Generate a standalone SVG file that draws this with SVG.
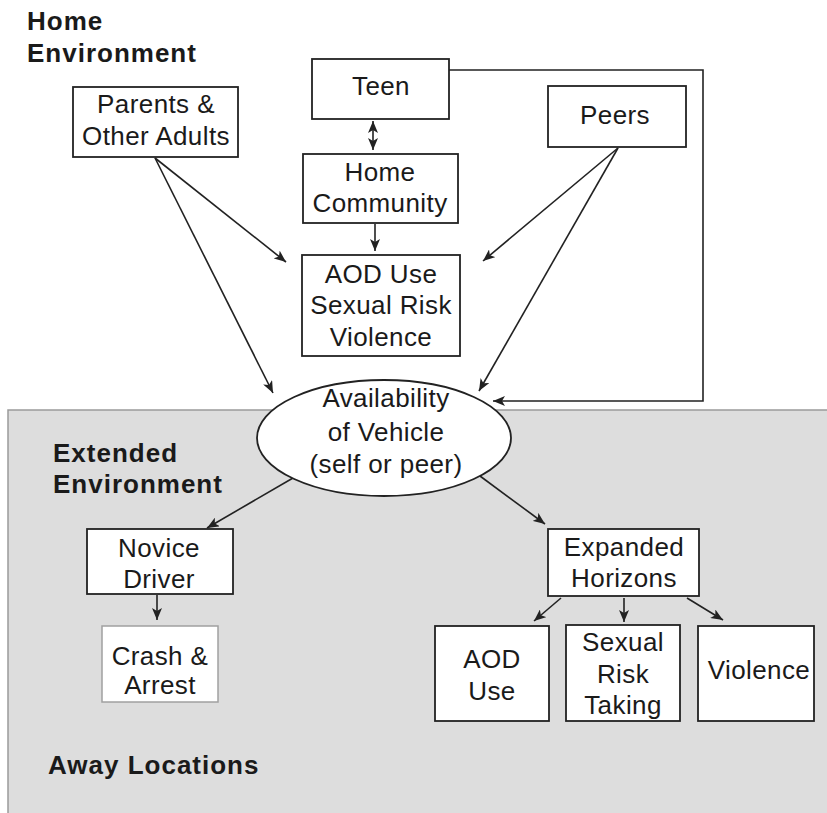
<svg xmlns="http://www.w3.org/2000/svg" width="827" height="813" viewBox="0 0 827 813">
  <defs>
    <style>
      .box { fill: #ffffff; stroke: #222222; stroke-width: 1.8; }
      .box-light { fill: #ffffff; stroke: #a0a0a0; stroke-width: 1.5; }
      .lbl { font-family: "Liberation Sans", Arial, sans-serif; font-size: 26px; fill: #1a1a1a; text-anchor: middle; letter-spacing: 0.4px; }
      .hdr { font-family: "Liberation Sans", Arial, sans-serif; font-size: 26px; font-weight: bold; fill: #1a1a1a; letter-spacing: 1px; }
      .conn { fill: none; stroke: #222222; stroke-width: 1.6; }
    </style>
    <marker id="ah" viewBox="0 0 12 10" refX="12" refY="5" markerWidth="12" markerHeight="10" markerUnits="userSpaceOnUse" orient="auto-start-reverse">
      <path d="M0,0 L12,5 L0,10 L3,5 z" fill="#222222"/>
    </marker>
  </defs>

  <rect width="827" height="813" fill="#ffffff"/>

  <!-- outer zone: extended environment / away locations -->
  <rect x="8" y="410" width="830" height="420" fill="#dddddd" stroke="#9a9a9a" stroke-width="1.5"/>

  <!-- zone headings -->
  <text class="hdr" x="27" y="30">Home</text>
  <text class="hdr" x="27" y="62">Environment</text>
  <text class="hdr" x="53" y="462">Extended</text>
  <text class="hdr" x="53" y="493">Environment</text>
  <text class="hdr" x="48" y="774">Away Locations</text>

  <!-- connectors -->
  <g id="connectors">
    <path class="conn" d="M373,121 L373,150" marker-start="url(#ah)" marker-end="url(#ah)"/>
    <path class="conn" d="M375,224 L375,251" marker-end="url(#ah)"/>
    <path class="conn" d="M155,158 L286,262" marker-end="url(#ah)"/>
    <path class="conn" d="M155,158 L273,393" marker-end="url(#ah)"/>
    <path class="conn" d="M618,148 L483,261" marker-end="url(#ah)"/>
    <path class="conn" d="M618,148 L479,391" marker-end="url(#ah)"/>
    <path class="conn" d="M449,70 L703,70 L703,401 L493,401" marker-end="url(#ah)"/>
    <path class="conn" d="M293,478 L207,528" marker-end="url(#ah)"/>
    <path class="conn" d="M480,476 L545,524" marker-end="url(#ah)"/>
    <path class="conn" d="M157,595 L157,620" marker-end="url(#ah)"/>
    <path class="conn" d="M561,598 L534,621" marker-end="url(#ah)"/>
    <path class="conn" d="M624,598 L624,622" marker-end="url(#ah)"/>
    <path class="conn" d="M687,598 L723,620" marker-end="url(#ah)"/>
  </g>

  <g id="parents">
    <rect class="box" x="73" y="87" width="165" height="70"/>
    <text class="lbl" x="156" y="113">Parents &amp;</text>
    <text class="lbl" x="156" y="145">Other Adults</text>
  </g>

  <g id="teen">
    <rect class="box" x="312" y="59" width="137" height="60"/>
    <text class="lbl" x="381" y="95">Teen</text>
  </g>

  <g id="home-community">
    <rect class="box" x="303" y="154" width="155" height="69"/>
    <text class="lbl" x="380" y="181">Home</text>
    <text class="lbl" x="380" y="212">Community</text>
  </g>

  <g id="home-risks">
    <rect class="box" x="302" y="255" width="158" height="101"/>
    <text class="lbl" x="381" y="283">AOD Use</text>
    <text class="lbl" x="381" y="314">Sexual Risk</text>
    <text class="lbl" x="381" y="346">Violence</text>
  </g>

  <g id="peers">
    <rect class="box" x="548" y="86" width="138" height="61"/>
    <text class="lbl" x="615" y="124">Peers</text>
  </g>

  <g id="vehicle">
    <ellipse cx="384" cy="438" rx="127" ry="58" fill="#ffffff" stroke="#222222" stroke-width="1.8"/>
    <text class="lbl" x="386" y="407">Availability</text>
    <text class="lbl" x="386" y="441">of Vehicle</text>
    <text class="lbl" x="386" y="473">(self or peer)</text>
  </g>

  <g id="novice-driver">
    <rect class="box" x="87" y="529" width="146" height="65"/>
    <text class="lbl" x="159" y="557">Novice</text>
    <text class="lbl" x="159" y="588">Driver</text>
  </g>

  <g id="crash-arrest">
    <rect class="box-light" x="102" y="626" width="116" height="76"/>
    <text class="lbl" x="160" y="665">Crash &amp;</text>
    <text class="lbl" x="160" y="694">Arrest</text>
  </g>

  <g id="expanded-horizons">
    <rect class="box" x="548" y="529" width="151" height="67"/>
    <text class="lbl" x="624" y="556">Expanded</text>
    <text class="lbl" x="624" y="587">Horizons</text>
  </g>

  <g id="aod-use">
    <rect class="box" x="435" y="626" width="114" height="95"/>
    <text class="lbl" x="492" y="668">AOD</text>
    <text class="lbl" x="492" y="700">Use</text>
  </g>

  <g id="sexual-risk">
    <rect class="box" x="566" y="625" width="114" height="96"/>
    <text class="lbl" x="623" y="651">Sexual</text>
    <text class="lbl" x="623" y="683">Risk</text>
    <text class="lbl" x="623" y="714">Taking</text>
  </g>

  <g id="violence">
    <rect class="box" x="698" y="626" width="116" height="95"/>
    <text class="lbl" x="759" y="679">Violence</text>
  </g>
</svg>
